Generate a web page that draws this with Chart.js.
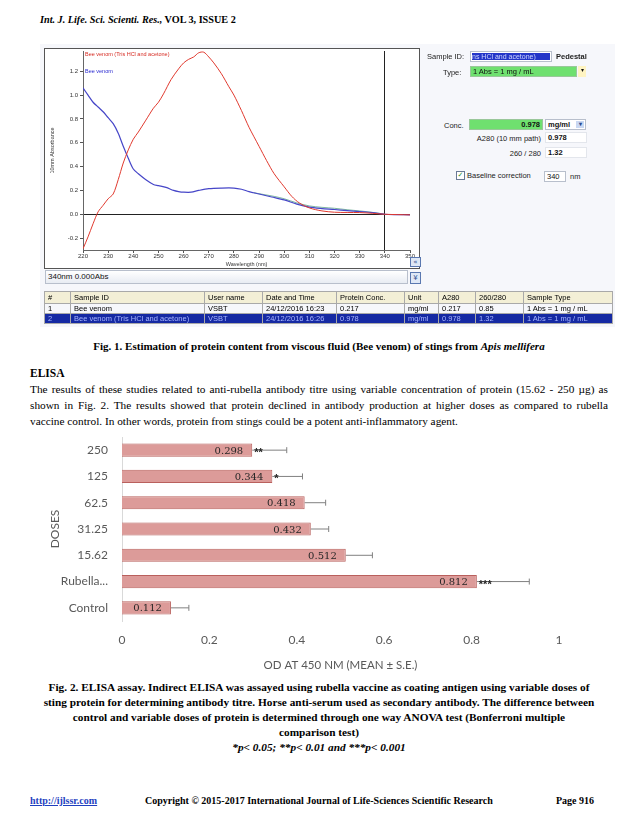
<!DOCTYPE html>
<html>
<head>
<meta charset="utf-8">
<script src="https://cdn.jsdelivr.net/npm/chart.js@4.4.0/dist/chart.umd.min.js"></script>
<style>
body{margin:0;background:#fff;}
#page{position:relative;width:638px;height:826px;overflow:hidden;font-family:"Liberation Serif","Times New Roman",serif;color:#000;}
.a{position:absolute;white-space:nowrap;}
.ui{font-family:"Liberation Sans",Arial,sans-serif;font-size:7.5px;color:#222;}
.box{position:absolute;box-sizing:border-box;border:1px solid #b8bfcc;background:#fff;font-family:"Liberation Sans",Arial,sans-serif;font-size:7.5px;line-height:9px;padding:0 2px;white-space:nowrap;overflow:hidden;color:#111;}
.jl{text-align:justify;text-align-last:justify;}
table.sw{position:absolute;left:44px;top:291px;width:568px;border-collapse:collapse;font-family:"Liberation Sans",Arial,sans-serif;font-size:7.5px;table-layout:fixed;}
table.sw td{border:1px solid #a9a9a9;padding:0 3px;height:9px;line-height:9px;white-space:nowrap;overflow:hidden;}
table.sw tr.h td{background:#f3efd6;height:11px;}
table.sw tr.sel td{background:#1529a3;color:#a9b6ff;}
.cap{position:absolute;left:20px;width:598px;text-align:center;font-weight:bold;font-size:11.3px;white-space:nowrap;}
</style>
</head>
<body>
<div id="page">
  <div class="a" style="left:40px;top:14px;font-size:10.2px;font-weight:bold;"><i>Int. J. Life. Sci. Scienti. Res.,</i> VOL 3, ISSUE 2</div>

  <!-- capture d'écran du spectrophotomètre -->
  <div class="a" style="left:40px;top:44px;width:575px;height:283px;background:#f6f7fb;"></div>
  <div class="a" style="left:44px;top:48px;width:374px;height:219px;border:1.5px solid #555;background:#fff;"></div>
  <canvas id="specChart" class="a" style="left:46px;top:50px;" width="373" height="218"></canvas>
  <div class="a ui" style="left:85px;top:51px;font-size:5.5px;color:#d62b22;">Bee venom (Tris HCl and acetone)</div>
  <div class="a ui" style="left:85px;top:68px;font-size:5.5px;color:#2a2ad0;">Bee venom</div>
  <div class="a" style="left:410px;top:257px;width:9px;height:8px;border:1px solid #5a78b0;background:#dfe8f6;font:7px 'DejaVu Sans';line-height:8px;text-align:center;color:#2a4a90;">«</div>
  <div class="box" style="left:45px;top:270px;width:363px;height:14px;line-height:12px;background:linear-gradient(#ffffff,#e8ecf3);font-size:8px;">340nm 0.000Abs</div>
  <div class="a" style="left:410px;top:272px;width:9px;height:10px;border:1px solid #5a78b0;background:#dfe8f6;font:7px 'DejaVu Sans';line-height:10px;text-align:center;color:#2a4a90;">¥</div>

  <div class="a ui" style="left:427px;top:52px;">Sample ID:</div>
  <div class="box" style="left:470px;top:51px;width:82px;height:11px;padding:1px;"><div style="background:#2436c8;color:#cfd6ff;height:7px;line-height:7px;font-size:7px;">ns HCl and acetone)</div></div>
  <div class="a ui" style="left:556px;top:52px;font-weight:bold;">Pedestal</div>
  <div class="a ui" style="left:443px;top:68px;">Type:</div>
  <div class="box" style="left:470px;top:66px;width:107px;height:11px;background:#6fe06f;border-color:#9ac79a;">1 Abs = 1 mg / mL</div>
  <div class="box" style="left:578px;top:66px;width:8px;height:11px;background:#fff4c2;border:none;font-size:6px;text-align:center;padding:0;">▾</div>
  <div class="a ui" style="left:444px;top:121px;">Conc.</div>
  <div class="box" style="left:469px;top:119px;width:74px;height:11px;background:#6fe06f;border-color:#9ac79a;text-align:right;font-weight:bold;">0.978</div>
  <div class="box" style="left:545px;top:119px;width:41px;height:11px;font-weight:bold;">mg/ml<span style="position:absolute;right:1px;top:1px;width:8px;height:7px;background:#c9d8f2;color:#2a4a90;font-size:6px;line-height:7px;text-align:center;">▾</span></div>
  <div class="a ui" style="left:466px;top:134px;width:75px;text-align:right;">A280 (10 mm path)</div>
  <div class="box" style="left:545px;top:132px;width:42px;height:11px;font-weight:bold;border-color:#e3e6ec;">0.978</div>
  <div class="a ui" style="left:466px;top:149px;width:75px;text-align:right;">260 / 280</div>
  <div class="box" style="left:545px;top:147px;width:42px;height:11px;font-weight:bold;border-color:#e3e6ec;">1.32</div>
  <div class="a" style="left:456px;top:171px;width:7px;height:7px;border:1px solid #6a7a95;background:#fff;font:7px 'DejaVu Sans';line-height:7px;color:#2a8a2a;text-align:center;">✓</div>
  <div class="a ui" style="left:467px;top:171px;">Baseline correction</div>
  <div class="box" style="left:544px;top:171px;width:22px;height:11px;">340</div>
  <div class="a ui" style="left:570px;top:172px;">nm</div>

  <table class="sw">
    <colgroup><col style="width:26px"><col style="width:134px"><col style="width:58px"><col style="width:74px"><col style="width:68px"><col style="width:34px"><col style="width:37px"><col style="width:48px"><col style="width:89px"></colgroup>
    <tr class="h"><td>#</td><td>Sample ID</td><td>User name</td><td>Date and Time</td><td>Protein Conc.</td><td>Unit</td><td>A280</td><td>260/280</td><td>Sample Type</td></tr>
    <tr><td>1</td><td>Bee venom</td><td>VSBT</td><td>24/12/2016 16:23</td><td>0.217</td><td>mg/ml</td><td>0.217</td><td>0.85</td><td>1 Abs = 1 mg / mL</td></tr>
    <tr class="sel"><td>2</td><td>Bee venom (Tris HCl and acetone)</td><td>VSBT</td><td>24/12/2016 16:26</td><td>0.978</td><td>mg/ml</td><td>0.978</td><td>1.32</td><td>1 Abs = 1 mg / mL</td></tr>
  </table>

  <div class="cap" style="top:340px;font-size:11px;">Fig. 1. Estimation of protein content from viscous fluid (Bee venom) of stings from <i>Apis mellifera</i></div>

  <div class="a" style="left:30px;top:367px;font-size:11.5px;font-weight:bold;">ELISA</div>
  <div class="a" style="left:30px;top:381px;width:578px;font-size:11.3px;line-height:16px;white-space:normal;">
    <div class="jl">The results of these studies related to anti-rubella antibody titre using variable concentration of protein (15.62 - 250 µg) as</div>
    <div class="jl">shown in Fig. 2. The results showed that protein declined in antibody production at higher doses as compared to rubella</div>
    <div>vaccine control. In other words, protein from stings could be a potent anti-inflammatory agent.</div>
  </div>

  <!-- graphique ELISA -->
  <canvas id="elisaChart" class="a" style="left:40px;top:430px;" width="570" height="245"></canvas>

  <div class="cap" style="top:681px;">Fig. 2. ELISA assay. Indirect ELISA was assayed using rubella vaccine as coating antigen using variable doses of</div>
  <div class="cap" style="top:696px;">sting protein for determining antibody titre. Horse anti-serum used as secondary antibody. The difference between</div>
  <div class="cap" style="top:711px;">control and variable doses of protein is determined through one way ANOVA test (Bonferroni multiple</div>
  <div class="cap" style="top:726px;">comparison test)</div>
  <div class="cap" style="top:741px;"><i>*p&lt; 0.05; **p&lt; 0.01 and ***p&lt; 0.001</i></div>

  <div class="a" style="left:30px;top:795px;font-size:10px;font-weight:bold;color:#1f3fbf;text-decoration:underline;">http://ijlssr.com</div>
  <div class="a" style="left:145px;top:795px;font-size:10px;font-weight:bold;">Copyright © 2015-2017 International Journal of Life-Sciences Scientific Research</div>
  <div class="a" style="left:556px;top:795px;font-size:10px;font-weight:bold;">Page 916</div>
</div>

<script>
const wlRed = [220,222,224,226,228,230,232,234,236,238,240,242,245,248,250,252,255,258,260,262,264,266,268,270,272,275,278,280,283,286,290,293,296,300,303,306,310,315,320,325,330,335,340,345,350];
const absRed = [-0.29,-0.19,-0.08,0.02,0.075,0.13,0.17,0.29,0.43,0.54,0.63,0.69,0.79,0.89,0.94,1.01,1.13,1.22,1.27,1.30,1.32,1.355,1.36,1.32,1.27,1.18,1.07,1.00,0.87,0.73,0.57,0.45,0.34,0.23,0.15,0.095,0.053,0.028,0.017,0.015,0.014,0.008,0,-0.003,-0.005];
const wlBlue = [220,222,224,226,228,230,232,234,236,238,240,242,245,248,250,253,256,258,260,263,266,270,275,280,283,286,290,295,300,305,310,315,320,325,330,335,340,345,350];
const absBlue = [1.06,1.0,0.94,0.90,0.86,0.81,0.76,0.68,0.57,0.47,0.38,0.34,0.29,0.25,0.24,0.225,0.20,0.19,0.185,0.185,0.20,0.215,0.22,0.22,0.21,0.19,0.17,0.145,0.12,0.085,0.06,0.048,0.04,0.03,0.022,0.014,0,-0.003,-0.005];
const wlGreen = [288,292,296,300,305,310,315,320,325,330,335,340];
const absGreen = [0.18,0.165,0.15,0.13,0.095,0.07,0.058,0.05,0.038,0.028,0.016,0];
const nmTicks = [220,230,240,250,260,270,280,290,300,310,320,330,340,350];
const absTicks = [-0.2,0,0.2,0.4,0.6,0.8,1.0,1.2];

// test ELISA (figure 2)
const doses = ["250","125","62.5","31.25","15.62","Rubella...","Control"];
const odMean = [0.298,0.344,0.418,0.432,0.512,0.812,0.112];
const odSE = [0.079,0.069,0.048,0.041,0.061,0.12,0.041];
const signif = ["**","*","","","","***",""];
const odTicks = [0,0.2,0.4,0.6,0.8,1];

const toXY = (xs, ys) => xs.map((x, k) => ({x: x, y: ys[k]}));
const tinyFont = {size: 6, family: "Liberation Sans"};
//pas de marge automatique autour des axes
const noPad = s => { s.paddingTop = 0; s.paddingBottom = 0; s.paddingLeft = 0; s.paddingRight = 0; };

let specChart = new Chart(document.getElementById("specChart").getContext("2d"), {
    type: "line",
    data: {
        datasets: [{
            label: "Bee venom (Tris HCl and acetone)",
            data: toXY(wlRed, absRed),
            borderColor: "#e0392e",
            borderWidth: 1,
            pointRadius: 0,
            tension: 0.3,
        }, {
            label: "Bee venom",
            data: toXY(wlBlue, absBlue),
            borderColor: "#4646c8",
            borderWidth: 1.2,
            pointRadius: 0,
            tension: 0.3,
        }, {
            label: "",
            data: toXY(wlGreen, absGreen),
            borderColor: "rgba(70,150,120,0.7)",
            borderWidth: 1,
            pointRadius: 0,
            tension: 0.3,
        }, ],
    },
    options: {
        animation: false,
        responsive: false,
        layout: {padding: {top: 1, right: 9, left: 0, bottom: 0}},
        scales: {
            x: {
                type: "linear",
                min: 220,
                max: 350,
                afterBuildTicks: s => { s.ticks = nmTicks.map(v => ({value: v})); },
                afterFit: s => { s.height = 18; noPad(s); },
                grid: {
                    color: c => (c.tick && c.tick.value === 340) ? "#222" : "rgba(0,0,0,0)",
                    tickColor: "#555",
                    tickLength: 3,
                },
                border: {color: "#666"},
                ticks: {font: tinyFont, color: "#333", padding: 0, maxRotation: 0},
                title: {text: "Wavelength (nm)", display: true, font: {size: 5.5, family: "Liberation Sans"}, color: "#333", padding: 0},
            },
            y: {
                min: -0.3,
                max: 1.37,
                afterBuildTicks: s => { s.ticks = absTicks.map(v => ({value: v})); },
                afterFit: s => { s.width = 37; noPad(s); },
                grid: {
                    color: c => (c.tick && Math.abs(c.tick.value) < 1e-9) ? "#222" : "rgba(0,0,0,0)",
                    tickColor: "#555",
                    tickLength: 3,
                },
                border: {color: "#666"},
                ticks: {font: tinyFont, color: "#333", padding: 2, callback: v => v.toFixed(1)},
                title: {text: "10mm Absorbance", display: true, font: {size: 5.5, family: "Liberation Sans"}, color: "#333", padding: {top: 3, bottom: 0}},
            },
        },
        plugins: {
            legend: {display: false},
            tooltip: {enabled: false},
        },
    },
});

//barres d'erreur, valeurs et étoiles
const barExtras = {
    id: "barExtras",
    afterDatasetsDraw(chart) {
        const ctx = chart.ctx;
        const xs = chart.scales.x;
        chart.getDatasetMeta(0).data.forEach((bar, k) => {
            const yc = bar.y;
            const x0 = xs.getPixelForValue(odMean[k]);
            const x1 = xs.getPixelForValue(odMean[k] + odSE[k]);
            ctx.save();
            ctx.strokeStyle = "#808080";
            ctx.lineWidth = 1;
            ctx.beginPath();
            ctx.moveTo(x0, yc);
            ctx.lineTo(x1, yc);
            ctx.moveTo(x1, yc - 3);
            ctx.lineTo(x1, yc + 3);
            ctx.stroke();
            ctx.fillStyle = "#262626";
            ctx.font = "10px 'DejaVu Serif'";
            ctx.textAlign = "right";
            ctx.textBaseline = "middle";
            ctx.fillText(odMean[k].toFixed(3), x0 - 9, yc + 1);
            if (signif[k]) {
                ctx.textAlign = "left";
                ctx.font = "bold 11px 'Liberation Sans'";
                ctx.fillText(signif[k], x0 + 2, yc + 3);
            }
            ctx.restore();
        });
    },
};

let elisaChart = new Chart(document.getElementById("elisaChart").getContext("2d"), {
    type: "bar",
    data: {
        labels: doses,
        datasets: [{
            label: "OD",
            data: odMean,
            backgroundColor: "#dc9b99",
            borderColor: "#b9605d",
            borderWidth: 1,
            barPercentage: 0.5,
            categoryPercentage: 1,
        }, ],
    },
    options: {
        indexAxis: "y",
        animation: false,
        responsive: false,
        layout: {padding: {top: 7, right: 51, left: 0, bottom: 0}},
        scales: {
            x: {
                min: 0,
                max: 1,
                afterBuildTicks: s => { s.ticks = odTicks.map(v => ({value: v})); },
                afterFit: s => { s.height = 54; noPad(s); },
                grid: {display: false},
                border: {display: false},
                ticks: {font: {size: 12, family: "Lato"}, color: "#595959", padding: 4, callback: v => String(v)},
                title: {text: "OD AT 450 NM (MEAN ± S.E.)", display: true, font: {size: 11.5, family: "Lato"}, color: "#595959", padding: {top: 6, bottom: 3}},
            },
            y: {
                afterFit: s => { s.width = 82; noPad(s); },
                grid: {display: false},
                border: {color: "#d9d9d9"},
                ticks: {font: {size: 12, family: "Lato"}, color: "#595959", padding: 6},
                title: {text: "DOSES", display: true, font: {size: 12, family: "Lato"}, color: "#595959", padding: {top: 8, bottom: 0}},
            },
        },
        plugins: {
            legend: {display: false},
            tooltip: {enabled: false},
        },
    },
    plugins: [barExtras],
});
</script>
</body>
</html>
